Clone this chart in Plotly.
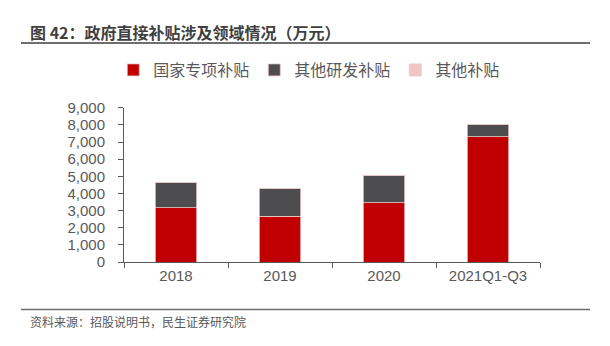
import plotly.graph_objects as go

categories = ["2018", "2019", "2020", "2021Q1-Q3"]
national = [3160, 2660, 3455, 7300]
other_rd = [1495, 1640, 1605, 740]
other = [10, 8, 8, 5]

series_names = ["国家专项补贴", "其他研发补贴", "其他补贴"]
colors = ["#C00000", "#4D4D4F", "#F2C4C4"]

cjk = "Noto Sans CJK SC, Noto Sans, sans-serif"
latin = "Liberation Sans, Arial, sans-serif"

fig = go.Figure()
for name, vals, col in zip(series_names, [national, other_rd, other], colors):
    fig.add_trace(go.Bar(
        x=categories, y=vals, name=name,
        marker=dict(color=col, line=dict(color="#E8C8C8", width=0.8)),
    ))

def py(p):
    return (262 - p) / 162

def px(p):
    return (p - 124) / 416

fig.update_layout(
    barmode="stack",
    bargap=0.6,
    width=610, height=346,
    margin=dict(l=124, r=70, t=100, b=84),
    paper_bgcolor="white", plot_bgcolor="white",
    font=dict(family=cjk, color="#595959", size=13),
    showlegend=True,
    legend=dict(
        orientation="h", xref="container", yref="container",
        x=0.507, y=1 - 70 / 346, xanchor="center", yanchor="middle",
        font=dict(size=16, color="#595959", family=cjk),
        bgcolor="rgba(0,0,0,0)",
        itemwidth=30, traceorder="normal",
    ),
    xaxis=dict(
        showline=True, linecolor="#595959", linewidth=1,
        ticks="outside", tickson="boundaries", ticklen=5, tickcolor="#595959",
        tickfont=dict(size=15, color="#595959", family=latin),
        showgrid=False,
    ),
    yaxis=dict(
        range=[0, 9000], dtick=1000, tickformat=",",
        showline=True, linecolor="#595959", linewidth=1,
        ticks="outside", ticklen=5, tickcolor="#595959",
        tickfont=dict(size=15, color="#595959", family=latin),
        ticklabelstandoff=10,
        showgrid=False, zeroline=False,
    ),
)

fig.add_annotation(text="<b>图 42：政府直接补贴涉及领域情况（万元）</b>",
                   xref="x domain", yref="y domain", x=px(28), y=py(20),
                   showarrow=False, xanchor="left", yanchor="middle",
                   font=dict(size=16, color="#3F3F3F", family=cjk))
fig.add_annotation(text="资料来源：招股说明书，民生证券研究院",
                   xref="x domain", yref="y domain", x=px(28), y=py(325),
                   showarrow=False, xanchor="left", yanchor="middle",
                   font=dict(size=12, color="#595959", family=cjk))

fig.add_shape(type="line", xref="x domain", yref="y domain",
              x0=px(21), x1=px(590), y0=py(32), y1=py(32),
              line=dict(color="#6E6E6E", width=2))
fig.add_shape(type="line", xref="x domain", yref="y domain",
              x0=px(21), x1=px(590), y0=py(312), y1=py(312),
              line=dict(color="#6E6E6E", width=1.5))

fig.write_html("out.html")
